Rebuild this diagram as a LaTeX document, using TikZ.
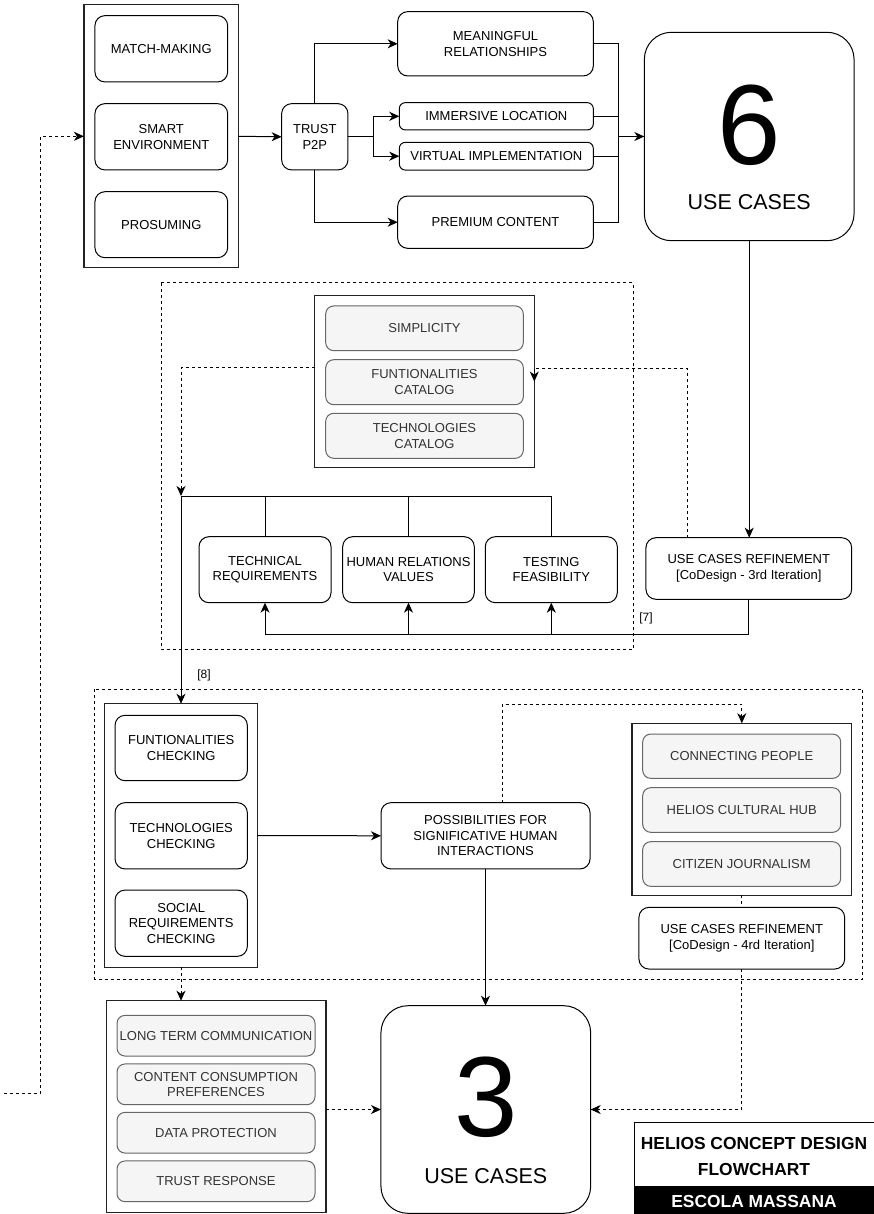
\documentclass[tikz,border=0pt]{standalone}
\usepackage{fontspec}
\setmainfont{Liberation Sans}
\usetikzlibrary{arrows.meta}
\definecolor{grayline}{HTML}{666666}
\definecolor{grayfill}{HTML}{F5F5F5}
\definecolor{graytext}{HTML}{333333}
\definecolor{contline}{HTML}{222222}
\begin{document}
\begin{tikzpicture}[x=1pt,y=-1pt,line width=1pt,
  every node/.style={inner sep=0pt, outer sep=0pt, align=center, font=\fontsize{13}{15.5}\selectfont},
  rbox/.style={draw=black, rounded corners=10pt, fill=white},
  gbox/.style={draw=grayline, fill=grayfill, text=graytext, rounded corners=8pt},
  cont/.style={draw=contline, line width=1.1pt, fill=white},
  bigbox/.style={draw=black, rounded corners=27pt, fill=white},
  arr/.style={-{Stealth[length=10pt,width=9pt,inset=3pt]}},
  dsh/.style={dash pattern=on 3pt off 3pt},
  bignum/.style={font=\fontsize{114}{114}\selectfont},
  biglbl/.style={font=\fontsize{21.5}{24}\selectfont},
  smalllbl/.style={font=\fontsize{12}{14}\selectfont},
  titlefont/.style={font=\fontsize{17.4}{20}\selectfont\bfseries}
]
\useasboundingbox (0,0) rectangle (874,1214);
\fill[white] (0,0) rectangle (874,1214);

% ---------- top section ----------
\node[cont, minimum width=154.7pt, minimum height=263.3pt] (c1) at (161.3,136.3) {};
\node[rbox, minimum width=132.7pt, minimum height=66.3pt] (mm) at (161.3,48.8) {MATCH-MAKING};
\node[rbox, minimum width=132.7pt, minimum height=66.3pt] (se) at (161.3,136.8) {SMART\\ENVIRONMENT};
\node[rbox, minimum width=132.7pt, minimum height=66pt] (pr) at (161.3,224.7) {PROSUMING};
\node[rbox, minimum width=66.3pt, minimum height=66.3pt] (trust) at (314.8,136.8) {TRUST\\P2P};
\node[rbox, minimum width=195.6pt, minimum height=64.3pt] (mean) at (495.5,43.8) {MEANINGFUL\\RELATIONSHIPS};
\node[rbox, rounded corners=6pt, minimum width=194pt, minimum height=27.3pt] (imm) at (496.3,116.3) {IMMERSIVE LOCATION};
\node[rbox, rounded corners=6pt, minimum width=194pt, minimum height=27.7pt] (virt) at (496.3,156.2) {VIRTUAL IMPLEMENTATION};
\node[rbox, minimum width=195.6pt, minimum height=52.3pt] (prem) at (495.5,222.2) {PREMIUM CONTENT};
\node[bigbox, minimum width=209.7pt, minimum height=208.4pt] (six) at (749.2,136.5) {};
\node[bignum] (sixn) at (749.2,125) {6};
\node[biglbl] (sixl) at (749.2,202) {USE CASES};

% ---------- middle section ----------
\draw[dsh] (161,282.7) rectangle (633.3,649);
\node[cont, minimum width=219.6pt, minimum height=172.4pt] (c2) at (424.5,381.5) {};
\node[gbox, minimum width=197.6pt, minimum height=44.7pt] (simp) at (424.5,328.3) {SIMPLICITY};
\node[gbox, minimum width=197.6pt, minimum height=45pt] (fcat) at (424.5,382.2) {FUNTIONALITIES\\CATALOG};
\node[gbox, minimum width=197.6pt, minimum height=45pt] (tcat) at (424.5,435.8) {TECHNOLOGIES\\CATALOG};
\node[rbox, minimum width=132pt, minimum height=66pt] (tech) at (265,569.7) {TECHNICAL\\REQUIREMENTS};
\node[rbox, minimum width=131.6pt, minimum height=66pt] (hum) at (408.5,569.7) {HUMAN RELATIONS\\VALUES};
\node[rbox, minimum width=132pt, minimum height=66pt] (test) at (551.3,569.7) {TESTING\\FEASIBILITY};
\node[rbox, minimum width=205.7pt, minimum height=61.6pt] (ref3) at (748.8,568.5) {USE CASES REFINEMENT\\{}[CoDesign - 3rd Iteration]};
\node[smalllbl] (l7) at (646,618.3) {[7]};
\node[smalllbl] (l8) at (204,675.7) {[8]};

% ---------- lower section ----------
\draw[dsh] (94.7,689.3) rectangle (862.7,979.3);
\node[cont, minimum width=153.4pt, minimum height=263.6pt] (c3) at (181,835.5) {};
\node[rbox, minimum width=132.3pt, minimum height=65.4pt] (fchk) at (181.2,748) {FUNTIONALITIES\\CHECKING};
\node[rbox, minimum width=132.3pt, minimum height=66.3pt] (tchk) at (181.2,835.8) {TECHNOLOGIES\\CHECKING};
\node[rbox, minimum width=132.3pt, minimum height=66.3pt] (schk) at (181.2,923.2) {SOCIAL\\REQUIREMENTS\\CHECKING};
\node[rbox, minimum width=209pt, minimum height=66.3pt] (poss) at (485.5,835.8) {POSSIBILITIES FOR\\SIGNIFICATIVE HUMAN\\INTERACTIONS};
\node[cont, minimum width=219.7pt, minimum height=172pt] (c4) at (741.8,809.3) {};
\node[gbox, minimum width=198pt, minimum height=44.3pt] (conn) at (741.7,756.2) {CONNECTING PEOPLE};
\node[gbox, minimum width=198pt, minimum height=44.6pt] (hub) at (741.7,810) {HELIOS CULTURAL HUB};
\node[gbox, minimum width=198pt, minimum height=44.6pt] (cit) at (741.7,864) {CITIZEN JOURNALISM};
\node[rbox, minimum width=205.7pt, minimum height=61.7pt] (ref4) at (741.8,938.2) {USE CASES REFINEMENT\\{}[CoDesign - 4rd Iteration]};

% ---------- bottom section ----------
\node[cont, minimum width=219.3pt, minimum height=212.2pt] (c5) at (216.3,1106.8) {};
\node[gbox, minimum width=198pt, minimum height=40.7pt] (ltc) at (216,1035.7) {LONG TERM COMMUNICATION};
\node[gbox, minimum width=198pt, minimum height=40.7pt] (ccp) at (216,1084.3) {CONTENT CONSUMPTION\\PREFERENCES};
\node[gbox, minimum width=198pt, minimum height=40.7pt] (dp) at (216,1132.7) {DATA PROTECTION};
\node[gbox, minimum width=198pt, minimum height=40.7pt] (tr) at (216,1181.3) {TRUST RESPONSE};
\node[bigbox, minimum width=209.7pt, minimum height=207.6pt] (three) at (485.8,1109.5) {};
\node[bignum] (threen) at (485.8,1097.5) {3};
\node[biglbl] (threel) at (485.8,1176) {USE CASES};

% title block
\node[draw=black, fill=white, minimum width=240pt, minimum height=91.7pt, anchor=north west] (tbox) at (634,1122.3) {};
\fill[black] (634,1185.7) rectangle (874,1214);
\node[titlefont] (t1) at (754,1143.3) {HELIOS CONCEPT DESIGN};
\node[titlefont] (t2) at (754,1169.3) {FLOWCHART};
\node[titlefont, text=white] (t3) at (754,1201) {ESCOLA MASSANA};

% ---------- connectors ----------
\coordinate (lft) at (4,1093.3);
\draw[dsh,arr] (lft) -- (40.7,1093.3) |- (c1.west);
\draw[arr] (c1.east) -- (trust.west);
\draw[arr] (trust.north) |- (mean.west);
\draw[arr] (trust.east) -- ++(26,0) |- (imm.west);
\draw[arr] (trust.east) -- ++(26,0) |- (virt.west);
\draw[arr] (trust.south) |- (prem.west);
\coordinate (mg) at (618.3,136.5);
\draw (mean.east) -| (mg);
\draw (imm.east) -| (mg);
\draw (virt.east) -| (mg);
\draw (prem.east) -| (mg);
\draw[arr] (mg) -- (six.west);
\draw[arr] (six.south) -- (ref3.north -| six.south);

\coordinate (d3a) at (687.7,368);
\draw[dsh,arr] (ref3.north -| d3a) -- (d3a) -- (c2.east |- d3a) -- (c2.east);
\coordinate (d2) at (181,367.3);
\coordinate (jn) at (181,496);
\draw[dsh,arr] (c2.west |- d2) -- (d2) -- (jn);
\draw (tech.north) |- (jn);
\draw (hum.north) -- (hum.north |- jn);
\draw (test.north) |- (jn);
\draw[arr] (jn) -- (c3.north);

\coordinate (bt) at (265,634.3);
\draw[arr] (ref3.south) |- (bt) -- (tech.south);
\draw[arr] (hum.south |- bt) -- (hum.south);
\draw[arr] (test.south |- bt) -- (test.south);

\draw[arr] (c3.east) -- (poss.west);
\coordinate (pc1) at (502.3,704.3);
\draw[dsh,arr] (poss.north -| pc1) -- (pc1) -| (c4.north);
\draw[dsh] (c4.south) -- (ref4.north);
\draw[arr] (poss.south) -- (three.north -| poss.south);
\draw[dsh,arr] (c3.south) -- (c3.south |- c5.north);
\draw[dsh,arr] (c5.east |- three.west) -- (three.west);
\draw[dsh,arr] (ref4.south) |- (three.east);
\end{tikzpicture}
\end{document}
